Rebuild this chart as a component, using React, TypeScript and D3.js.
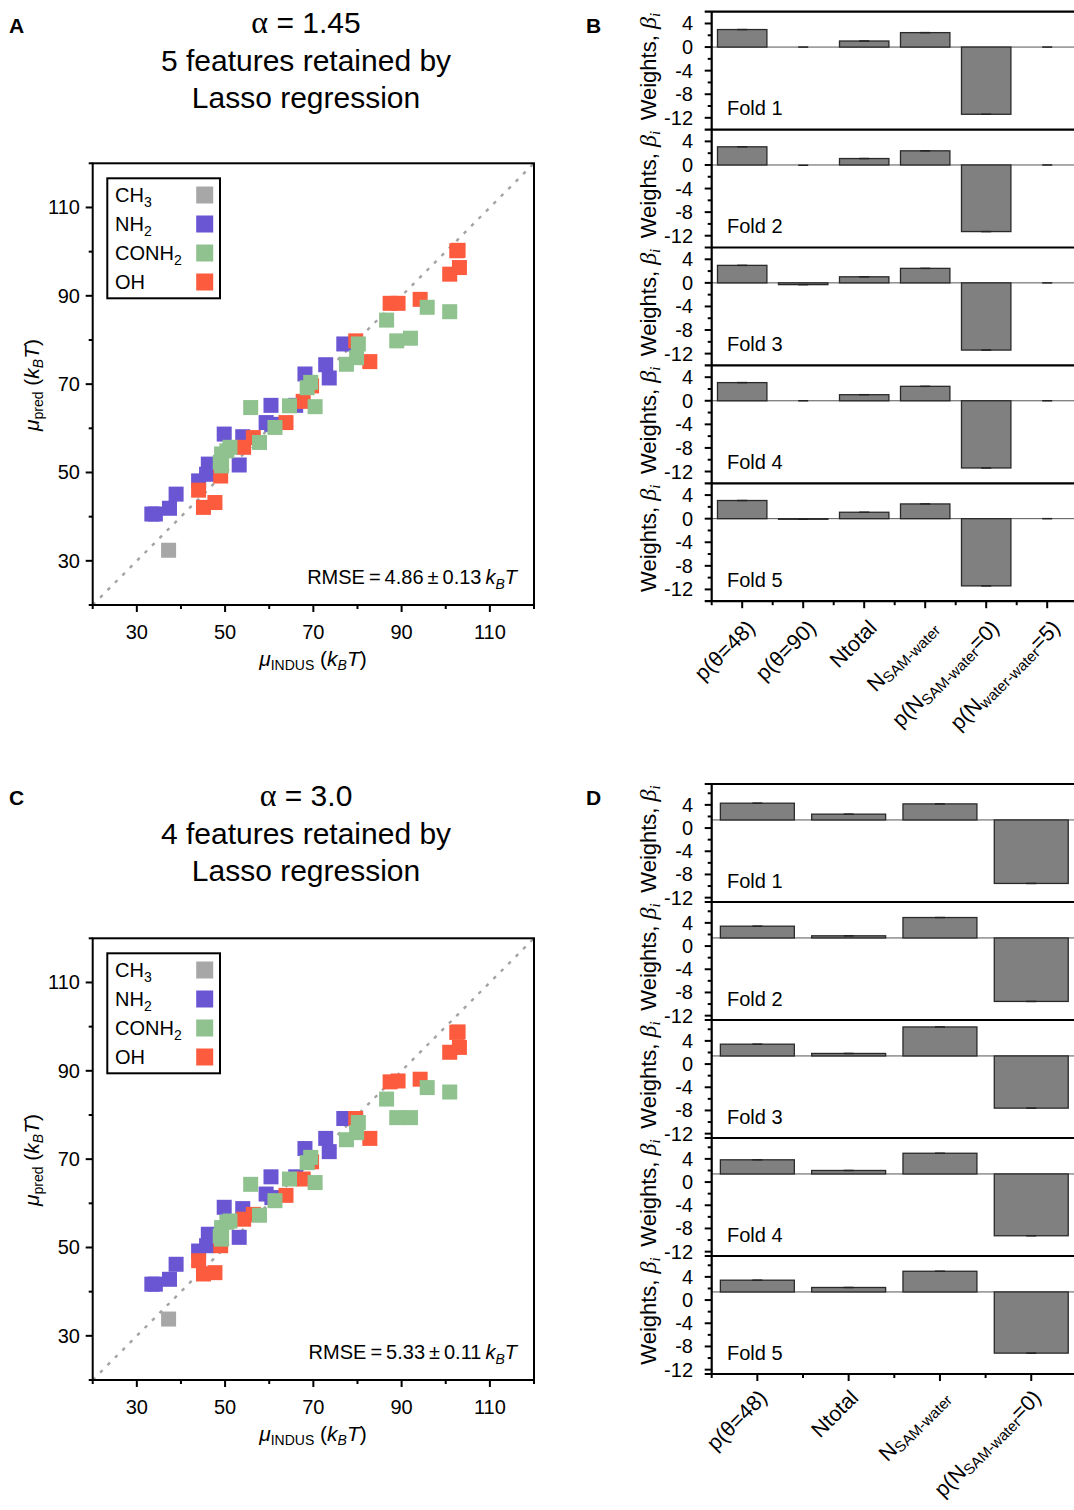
import React from 'react';
import * as d3 from 'd3';

const FONT = "'Liberation Sans', Arial, Helvetica, sans-serif";

// ---------- scatter data ----------
const groupNames = ['CH3', 'NH2', 'CONH2', 'OH'];
const groupColors = ['#a7a7a7', '#6a55d3', '#8fc28f', '#fd5b3e'];

const ch3X = [37.2];
const ch3PredA = [32.4];
const ch3PredC = [33.8];

const nh2X = [33.4, 34.2, 37.4, 38.9, 44.0, 46.2, 45.8, 49.8, 54.0, 53.2, 60.4, 59.3, 60.6, 66.0, 68.1, 72.8, 73.6, 76.9];
const nh2PredA = [40.6, 40.6, 41.9, 45.1, 48.1, 51.9, 49.6, 58.7, 58.1, 51.7, 65.2, 61.3, 60.9, 65.2, 72.3, 74.4, 71.4, 79.1];
const nh2PredC = [41.7, 41.7, 42.8, 46.2, 49.2, 53.0, 50.4, 59.1, 58.8, 52.3, 66.0, 62.1, 61.3, 66.0, 72.4, 74.7, 71.7, 79.2];

const conh2X = [55.8, 57.8, 61.3, 49.2, 48.9, 50.4, 51.1, 49.2, 64.6, 70.4, 68.6, 69.4, 77.5, 79.8, 80.2, 86.6, 88.9, 92.0, 95.8, 100.9];
const conh2PredA = [64.7, 56.8, 60.2, 54.2, 52.3, 54.9, 55.7, 51.5, 65.1, 64.9, 69.2, 70.4, 74.5, 76.0, 79.1, 84.5, 79.8, 80.4, 87.4, 86.4];
const conh2PredC = [64.3, 57.3, 60.6, 54.5, 52.6, 55.7, 56.0, 51.9, 65.5, 64.7, 69.2, 70.4, 74.4, 76.0, 78.3, 83.6, 79.4, 79.4, 86.2, 85.2];

const ohX = [44.0, 45.1, 47.7, 49.0, 54.2, 56.4, 63.8, 67.7, 69.6, 79.6, 82.8, 87.4, 89.2, 94.2, 100.9, 103.1, 102.8, 102.5];
const ohPredA = [46.0, 42.1, 43.2, 49.2, 55.7, 57.9, 61.3, 66.1, 69.6, 79.8, 75.1, 88.3, 88.3, 89.2, 94.9, 96.4, 100.3, 100.2];
const ohPredC = [47.0, 44.0, 44.3, 50.4, 56.4, 57.5, 61.8, 65.5, 69.4, 79.2, 74.7, 87.5, 87.7, 88.1, 94.2, 95.3, 98.8, 98.7];

const scatterMajorTicks = [30, 50, 70, 90, 110];
const scatterMinorTicks = [20, 40, 60, 80, 100, 120];

// ---------- bar data ----------
const catsB = ['p(θ=48)', 'p(θ=90)', 'Ntotal', 'NSAM-water', 'p(NSAM-water=0)', 'p(Nwater-water=5)'];
const foldsB = [
  [2.97, 0.0, 1.03, 2.45, -11.4, 0.0],
  [3.08, -0.05, 1.09, 2.4, -11.3, 0.0],
  [2.97, -0.3, 1.03, 2.46, -11.4, 0.0],
  [3.08, 0.0, 1.03, 2.45, -11.4, 0.0],
  [3.08, -0.1, 1.09, 2.5, -11.4, 0.0],
];
const catsD = ['p(θ=48)', 'Ntotal', 'NSAM-water', 'p(NSAM-water=0)'];
const foldsD = [
  [4.29, 2.4, 4.17, -9.55],
  [3.43, 1.77, 4.92, -9.55],
  [3.43, 1.83, 6.4, -7.6],
  [3.84, 2.0, 4.97, -9.26],
  [3.43, 2.17, 4.97, -9.15],
];
const baseB = 0;
const baseD = 1.4;
const weightMajorTicks = [4, 0, -4, -8, -12];
const weightMinorTicks = [6, 2, -2, -6, -10, -14];

function subLabel(name: string) {
  if (name === 'CH3') return [<tspan key="a">CH</tspan>, <tspan key="b" fontSize={14} dy={5}>3</tspan>];
  if (name === 'NH2') return [<tspan key="a">NH</tspan>, <tspan key="b" fontSize={14} dy={5}>2</tspan>];
  if (name === 'CONH2') return [<tspan key="a">CONH</tspan>, <tspan key="b" fontSize={14} dy={5}>2</tspan>];
  return [<tspan key="a">{name}</tspan>];
}

function catLabel(name: string) {
  const m = name.match(/^(.*N)(SAM-water|water-water)(.*)$/);
  if (!m) return [<tspan key="a">{name}</tspan>];
  const parts = [<tspan key="a">{m[1]}</tspan>, <tspan key="b" fontSize={15} dy={3}>{m[2]}</tspan>];
  if (m[3]) parts.push(<tspan key="c" dy={-3}>{m[3]}</tspan>);
  return parts;
}

function Scatter({ oy, preds, rmse }: { oy: number; preds: number[][]; rmse: string }) {
  const x = d3.scaleLinear().domain([20, 120]).range([92.7, 534]);
  const y = d3.scaleLinear().domain([20, 120]).range([605 + oy, 163.3 + oy]);
  const xsAll = [ch3X, nh2X, conh2X, ohX];
  const order = [1, 3, 2, 0];
  const s = 15;
  const bottom = 605 + oy;
  const left = 92.7;
  return (
    <g>
      <line x1={x(20)} y1={y(20)} x2={x(120)} y2={y(120)} stroke="#a3a3a3" strokeWidth={2.4} strokeDasharray="3.5,7" />
      {order.map((gi) =>
        xsAll[gi].map((xv, i) => (
          <rect key={gi + '-' + i} x={x(xv) - s / 2} y={y(preds[gi][i]) - s / 2} width={s} height={s} fill={groupColors[gi]} />
        ))
      )}
      <rect x={left} y={163.3 + oy} width={534 - left} height={605 - 163.3} fill="none" stroke="#000" strokeWidth={2} />
      {scatterMajorTicks.map((t) => (
        <g key={'mx' + t}>
          <line x1={x(t)} x2={x(t)} y1={bottom} y2={bottom + 7} stroke="#000" strokeWidth={2} />
          <text x={x(t)} y={bottom + 34} textAnchor="middle" fontSize={20}>{t}</text>
          <line x1={left} x2={left - 7} y1={y(t)} y2={y(t)} stroke="#000" strokeWidth={2} />
          <text x={80} y={y(t) + 7} textAnchor="end" fontSize={20}>{t}</text>
        </g>
      ))}
      {scatterMinorTicks.map((t) => (
        <g key={'mn' + t}>
          <line x1={x(t)} x2={x(t)} y1={bottom} y2={bottom + 4} stroke="#000" strokeWidth={2} />
          <line x1={left} x2={left - 4} y1={y(t)} y2={y(t)} stroke="#000" strokeWidth={2} />
        </g>
      ))}
      {/* legend */}
      <rect x={107.3} y={178.3 + oy} width={112.7} height={120} fill="#fff" stroke="#000" strokeWidth={2} />
      {groupNames.map((g, i) => (
        <g key={g}>
          <text x={115} y={201.5 + oy + i * 29} fontSize={20}>{subLabel(g)}</text>
          <rect x={196.2} y={186.5 + oy + i * 29} width={17} height={17} fill={groupColors[i]} />
        </g>
      ))}
      <text x={517} y={584 + oy} textAnchor="end" fontSize={20}>
        <tspan>{'RMSE\u2009=\u2009' + rmse + '\u2009'}</tspan>
        <tspan fontStyle="italic">k</tspan>
        <tspan fontStyle="italic" fontSize={14} dy={5}>B</tspan>
        <tspan fontStyle="italic" dy={-5}>T</tspan>
      </text>
      {/* axis labels */}
      <text x={313} y={666 + oy} textAnchor="middle" fontSize={21}>
        <tspan fontStyle="italic">μ</tspan>
        <tspan fontSize={14} dy={4}>INDUS</tspan>
        <tspan dy={-4}>{' ('}</tspan>
        <tspan fontStyle="italic">k</tspan>
        <tspan fontStyle="italic" fontSize={14} dy={4}>B</tspan>
        <tspan fontStyle="italic" dy={-4}>T</tspan>
        <tspan>)</tspan>
      </text>
      <text transform={`translate(39,${385 + oy}) rotate(-90)`} textAnchor="middle" fontSize={21}>
        <tspan fontStyle="italic">μ</tspan>
        <tspan fontSize={14} dy={4}>pred</tspan>
        <tspan dy={-4}>{' ('}</tspan>
        <tspan fontStyle="italic">k</tspan>
        <tspan fontStyle="italic" fontSize={14} dy={4}>B</tspan>
        <tspan fontStyle="italic" dy={-4}>T</tspan>
        <tspan>)</tspan>
      </text>
    </g>
  );
}

function FoldPanels({ top, h, step, cats, folds, domain, base, lx, ly }: { top: number; h: number; step: number; cats: string[]; folds: number[][]; domain: number[]; base: number; lx: number; ly: number }) {
  const x0 = 711.7;
  const xEnd = x0 + cats.length * step;
  const xs = d3.scalePoint<string>().domain(cats).range([x0, xEnd]).padding(0.5);
  const bw = step * 0.81;
  const bottom = top + folds.length * h;
  return (
    <g>
      {folds.map((vals, k) => {
        const pt = top + k * h;
        const y = d3.scaleLinear().domain(domain).range([pt + h, pt]);
        return (
          <g key={k}>
            <line x1={x0} x2={1090} y1={y(base)} y2={y(base)} stroke="#555" strokeWidth={1} />
            {vals.map((v, i) => {
              const cx = xs(cats[i]) as number;
              const y1 = y(Math.max(v, base));
              const y2 = y(Math.min(v, base));
              return (
                <g key={i}>
                  {y2 - y1 > 0.5 && (
                    <rect x={cx - bw / 2} y={y1} width={bw} height={y2 - y1} fill="#808080" stroke="#2a2a2a" strokeWidth={1.3} />
                  )}
                  <line x1={cx - 5} x2={cx + 5} y1={y(v)} y2={y(v)} stroke="#222" strokeWidth={1.5} />
                </g>
              );
            })}
            <line x1={x0 - 7} x2={1090} y1={pt} y2={pt} stroke="#000" strokeWidth={2.2} />
            {weightMajorTicks.map((t) => (
              <g key={'M' + t}>
                <line x1={x0} x2={x0 - 7} y1={y(t)} y2={y(t)} stroke="#000" strokeWidth={2} />
                <text x={693} y={y(t) + 7} textAnchor="end" fontSize={20}>{t}</text>
              </g>
            ))}
            {weightMinorTicks.filter((t) => t > domain[0] && t < domain[1]).map((t) => (
              <line key={'m' + t} x1={x0} x2={x0 - 4} y1={y(t)} y2={y(t)} stroke="#000" strokeWidth={2} />
            ))}
            <text x={727} y={pt + 103.5} fontSize={20}>{'Fold ' + (k + 1)}</text>
            <text transform={`translate(656,${pt + h / 2 - 4}) rotate(-90)`} textAnchor="middle" fontSize={22}>
              <tspan>{'Weights, '}</tspan>
              <tspan fontStyle="italic" fontFamily="'Liberation Serif', serif" fontSize={24}>β</tspan>
              <tspan fontStyle="italic" fontFamily="'Liberation Serif', serif" fontSize={15} dy={4}>i</tspan>
            </text>
          </g>
        );
      })}
      <line x1={x0} x2={x0} y1={top} y2={bottom} stroke="#000" strokeWidth={2.2} />
      <line x1={x0 - 7} x2={1090} y1={bottom} y2={bottom} stroke="#000" strokeWidth={2.2} />
      {d3.range(cats.length + 1).map((i) => (
        <line key={'bm' + i} x1={x0 + i * step} x2={x0 + i * step} y1={bottom} y2={bottom + 4} stroke="#000" strokeWidth={2} />
      ))}
      {cats.map((c) => {
        const cx = xs(c) as number;
        return (
          <g key={c}>
            <line x1={cx} x2={cx} y1={bottom} y2={bottom + 7} stroke="#000" strokeWidth={2} />
            <text transform={`translate(${cx + lx},${bottom + ly}) rotate(-45)`} textAnchor="end" fontSize={21.5}>
              {catLabel(c)}
            </text>
          </g>
        );
      })}
    </g>
  );
}

function Title({ oy, lines }: { oy: number; lines: string[] }) {
  return (
    <g>
      <text x={306} y={33 + oy} textAnchor="middle" fontSize={30}>
        <tspan fontFamily="'Liberation Serif', serif" fontSize={32}>α</tspan>
        <tspan>{lines[0]}</tspan>
      </text>
      <text x={306} y={70.5 + oy} textAnchor="middle" fontSize={30}>{lines[1]}</text>
      <text x={306} y={108 + oy} textAnchor="middle" fontSize={30}>{lines[2]}</text>
    </g>
  );
}

export default function App() {
  return (
    <svg width={1074} height={1510} style={{ position: 'absolute', left: 0, top: 0, background: '#fff' }} fontFamily={FONT}>
      <rect width={1074} height={1510} fill="#fff" />
      <text x={9} y={33} fontSize={21} fontWeight="bold">A</text>
      <text x={586} y={33} fontSize={21} fontWeight="bold">B</text>
      <text x={9} y={805} fontSize={21} fontWeight="bold">C</text>
      <text x={586} y={805} fontSize={21} fontWeight="bold">D</text>
      <Title oy={0} lines={[' = 1.45', '5 features retained by', 'Lasso regression']} />
      <Title oy={773} lines={[' = 3.0', '4 features retained by', 'Lasso regression']} />
      <Scatter oy={0} preds={[ch3PredA, nh2PredA, conh2PredA, ohPredA]} rmse={'4.86\u2009±\u20090.13'} />
      <Scatter oy={775} preds={[ch3PredC, nh2PredC, conh2PredC, ohPredC]} rmse={'5.33\u2009±\u20090.11'} />
      <FoldPanels top={11.7} h={117.9} step={61} cats={catsB} folds={foldsB} domain={[-14, 6]} base={baseB} lx={14} ly={28} />
      <FoldPanels top={784} h={118} step={91.3} cats={catsD} folds={foldsD} domain={[-12.75, 7.6]} base={baseD} lx={11} ly={25} />
    </svg>
  );
}
